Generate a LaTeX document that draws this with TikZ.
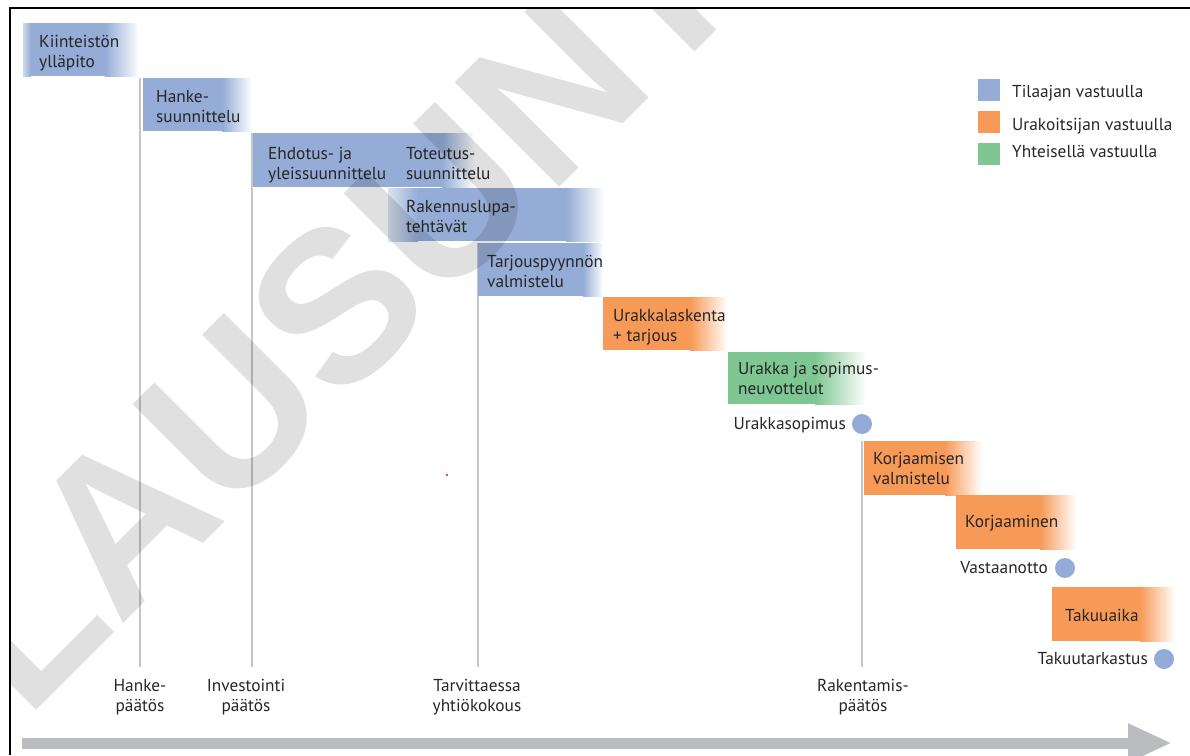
\documentclass[tikz,border=0pt]{standalone}
\usepackage{fontspec}
\setmainfont{PT Sans}
\newfontfamily\stampFont{Liberation Sans}
\usetikzlibrary{positioning,arrows.meta,calc}

\definecolor{tilaajaBlue}{HTML}{94ACD6}
\definecolor{urakoitsijaOrange}{HTML}{F79A58}
\definecolor{yhteinenGreen}{HTML}{7EC692}
\definecolor{dotBlue}{HTML}{94ABD8}
\definecolor{inkDark}{HTML}{262626}
\definecolor{stemGray}{HTML}{C6C6C6}
\definecolor{arrowGray}{HTML}{BBBCBF}
\newcommand{\phaseFont}{\fontsize{17.3}{20}\selectfont}
\tikzset{
  every node/.style={font=\phaseFont, text=inkDark},
  phasetext/.style={anchor=base west, align=left, inner sep=0pt},
  decision/.style={anchor=north, align=center, inner sep=0pt},
  event/.style={anchor=base east, inner sep=0pt},
  eventdot/.style={circle, fill=dotBlue, minimum size=20pt, inner sep=0pt},
  keybox/.style={minimum width=22pt, minimum height=22pt, inner sep=0pt},
  keytext/.style={anchor=base west, inner sep=0pt},
  stem/.style={stemGray, line width=1.5pt},
  timeline/.style={arrowGray, line width=11pt, -{Triangle[length=44pt, width=36pt]}},
  frameline/.style={black, line width=1.8pt},
  stamp/.style={anchor=base west, rotate=45, inner sep=0pt, text=black,
                opacity=0.12, font=\stampFont\bfseries\fontsize{215}{215}\selectfont},
}
% a phase bar: solid up to #5, then fading out to its right end #3
\newcommand{\phaseBar}[6]{%
  \fill[#6] (#1,#2) rectangle (#5,#4);
  \shade[left color=#6, right color=white] (#5,#2) rectangle (#3,#4);}

\begin{document}
\begin{tikzpicture}[x=1pt, y=-1pt]
\useasboundingbox (0,0) rectangle (1190,755);

% ---------------------------------------------------------------- the frame
\draw[frameline] (10,755) -- (10,8) -- (1190,8);

% ------------------------------------------------------------ the decisions
\node[decision] (hankePaatos) at (140,679) {Hanke-\\päätös};
\node[decision] (investointiPaatos) at (246,679) {Investointi\\päätös};
\node[decision] (yhtiokokous) at (477,679) {Tarvittaessa\\yhtiökokous};
\node[decision] (rakentamisPaatos) at (863,679) {Rakentamis-\\päätös};

\foreach \x/\y/\n in {140/78/hankePaatos, 252/133/investointiPaatos,
                      478/243/yhtiokokous, 862/441/rakentamisPaatos}
  \draw[stem, shorten >=12pt] (\x,\y) -- (\x,0 |- \n.north);

% --------------------------------------------------------------- the phases
\phaseBar{23}{23}{139}{76}{105}{tilaajaBlue}
\shade[left color=tilaajaBlue!45, right color=tilaajaBlue] (23,23) rectangle (31,76);
\phaseBar{143}{78}{252}{131}{222}{tilaajaBlue}
\phaseBar{253}{133}{475}{187}{442}{tilaajaBlue}
\phaseBar{388}{188}{604}{241}{566}{tilaajaBlue}
\shade[left color=tilaajaBlue!35, right color=tilaajaBlue] (388,188) rectangle (418,241);
\phaseBar{478}{243}{603}{296}{583}{tilaajaBlue}
\phaseBar{603}{297}{728}{350}{690}{urakoitsijaOrange}
\phaseBar{728}{352}{866}{404}{815}{yhteinenGreen}
\phaseBar{864}{441}{982}{495}{945}{urakoitsijaOrange}
\phaseBar{956}{495}{1076}{549}{1040}{urakoitsijaOrange}
\phaseBar{1052}{587}{1175}{641}{1140}{urakoitsijaOrange}

% (a two-line text sits on the baseline of its last line)
\node[phasetext] (kiinteisto) at (39,67) {Kiinteistön\\ylläpito};
\node[phasetext] (hankeSuunnittelu) at (156,122) {Hanke-\\suunnittelu};
\node[phasetext] (ehdotus) at (268,179) {Ehdotus- ja\\yleissuunnittelu};
\node[phasetext] (toteutus) at (406,179) {Toteutus-\\suunnittelu};
\node[phasetext] (rakennuslupa) at (406,232) {Rakennuslupa-\\tehtävät};
\node[phasetext] (tarjouspyynto) at (487,287) {Tarjouspyynnön\\valmistelu};
\node[phasetext] (urakkalaskenta) at (613,341) {Urakkalaskenta\\+ tarjous};
\node[phasetext] (neuvottelut) at (738,394) {Urakka ja sopimus-\\neuvottelut};
\node[phasetext] (korjaamisenValmistelu) at (873,484) {Korjaamisen\\valmistelu};
\node[phasetext] (korjaaminen) at (965,527) {Korjaaminen};
\node[phasetext] (takuuaika) at (1065,621) {Takuuaika};

% --------------------------------------------------------------- the events
\node[eventdot] (sopimusDot) at (862,424) {};
\node[event] (sopimus) at (846,429) {Urakkasopimus};
\node[eventdot] (vastaanottoDot) at (1065,568) {};
\node[event] (vastaanotto) at (1048,573) {Vastaanotto};
\node[eventdot] (tarkastusDot) at (1164,659) {};
\node[event] (tarkastus) at (1148,664) {Takuutarkastus};

% ------------------------------------------------------------------ the key
\foreach \c/\y/\t/\n/\b in {tilaajaBlue/90/Tilaajan vastuulla/keyTilaaja/97,
    urakoitsijaOrange/122/Urakoitsijan vastuulla/keyUrakoitsija/130,
    yhteinenGreen/154/Yhteisellä vastuulla/keyYhteinen/157}{
  \node[keybox, fill=\c] (\n) at (989,\y) {};
  \node[keytext] (\n Text) at (1012,\b) {\t};}

% ------------------------------------------------------------- the time axis
\coordinate (timeStart) at (22,743);
\coordinate (timeEnd) at (1172,743);
\draw[timeline] (timeStart) -- (timeEnd);

\fill[red] (447,475) circle (1.2);

% -------------------------------------------------------------- the stamp
\begin{scope}
  \clip (10,8) rectangle (1190,755);
  \node[stamp] (stamp) at (26,721) {LAUSUNTO};
\end{scope}

\end{tikzpicture}
\end{document}
